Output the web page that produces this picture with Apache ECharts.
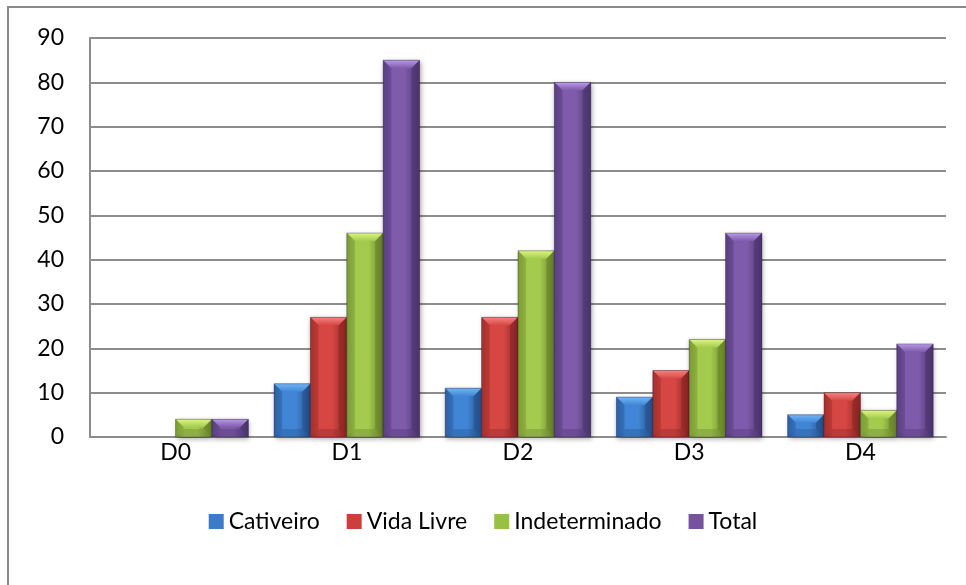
<!DOCTYPE html>
<html>
<head>
<meta charset="utf-8">
<script src="https://cdn.jsdelivr.net/npm/echarts@6/dist/echarts.min.js"></script>
<style>
  html, body { margin: 0; padding: 0; background: #fff; }
  #chart { width: 966px; height: 585px; }
</style>
</head>
<body>
<div id="chart"></div>
<script>
// Categories and series values
const categories = ['D0', 'D1', 'D2', 'D3', 'D4'];
const seriesNames = ['Cativeiro', 'Vida Livre', 'Indeterminado', 'Total'];
const cativeiro = [0, 12, 11, 9, 5];
const vidaLivre = [0, 27, 27, 15, 10];
const indeterminado = [4, 46, 42, 22, 6];
const total = [4, 85, 80, 46, 21];
const yTicks = [0, 10, 20, 30, 40, 50, 60, 70, 80, 90];

// Shades per series: edge (sides), body (centre), top bevel, legend swatch
const palette = [
  { edge: '#2c60a4', body: '#4186d6', top: '#70b4f6', dark: '#244f88', swatch: '#3b7cc8' },
  { edge: '#a52f2c', body: '#d64744', top: '#f38480', dark: '#8a2522', swatch: '#cc3f3c' },
  { edge: '#7c9c34', body: '#a4ca4e', top: '#dcf680', dark: '#66822a', swatch: '#98c046' },
  { edge: '#5a3f82', body: '#7e5bab', top: '#b89ae6', dark: '#4a346c', swatch: '#7553a0' }
];

const values = [cativeiro, vidaLivre, indeterminado, total];
const FONT = 'Lato, "Open Sans", sans-serif';
const GROUP = 0.85; // share of the category band used by the four bars

function bevelBar(sIdx) {
  const c = palette[sIdx];
  return function (params, api) {
    const cat = api.value(0);
    const val = api.value(1);
    if (!(val > 0)) return null;
    const base = api.coord([cat, 0]);
    const topPt = api.coord([cat, val]);
    const band = api.size([1, 0])[0];
    const w = band * GROUP / 4;
    const x = base[0] - band * GROUP / 2 + sIdx * w;
    const y = topPt[1];
    const h = base[1] - y;
    const b = Math.min(8, h / 2, w / 3);
    const bodyFill = new echarts.graphic.LinearGradient(0, 0, 1, 0, [
      { offset: 0, color: c.edge },
      { offset: 0.25, color: c.body },
      { offset: 0.6, color: c.body },
      { offset: 1, color: c.dark }
    ]);
    return {
      type: 'group',
      children: [
        {
          type: 'rect',
          shape: { x: x, y: y, width: w, height: h },
          style: {
            fill: bodyFill,
            shadowBlur: 5, shadowOffsetX: 1, shadowOffsetY: 2,
            shadowColor: 'rgba(0,0,0,0.35)'
          }
        },
        {
          // top bevel
          type: 'polygon',
          shape: { points: [[x, y], [x + w, y], [x + w - b, y + b], [x + b, y + b]] },
          style: {
            fill: new echarts.graphic.LinearGradient(0, 0, 0, 1, [
              { offset: 0, color: c.top },
              { offset: 1, color: c.body }
            ])
          }
        },
        {
          // left bevel
          type: 'polygon',
          shape: { points: [[x, y], [x + b, y + b], [x + b, y + h - b], [x, y + h]] },
          style: { fill: c.edge, opacity: 0.5 }
        },
        {
          // right bevel
          type: 'polygon',
          shape: { points: [[x + w, y], [x + w, y + h], [x + w - b, y + h - b], [x + w - b, y + b]] },
          style: { fill: c.dark, opacity: 0.6 }
        },
        {
          // bottom bevel
          type: 'polygon',
          shape: { points: [[x, y + h], [x + b, y + h - b], [x + w - b, y + h - b], [x + w, y + h]] },
          style: { fill: c.dark, opacity: 0.35 }
        },
        {
          type: 'rect',
          shape: { x: x, y: y, width: w, height: h },
          style: { fill: 'none', stroke: 'rgba(40,30,60,0.35)', lineWidth: 1 }
        }
      ]
    };
  };
}

const chart = echarts.init(document.getElementById('chart'), null, { renderer: 'canvas' });

chart.setOption({
  backgroundColor: '#ffffff',
  animation: false,
  textStyle: { fontFamily: FONT },
  graphic: [{
    type: 'rect',
    z: -1,
    shape: { x: 8, y: 7, width: 1000, height: 700 },
    style: { fill: 'none', stroke: '#8a8a8a', lineWidth: 2 }
  }],
  grid: { left: 90, right: 20, top: 38, bottom: 148, containLabel: false },
  legend: {
    data: seriesNames.map((n, i) => ({ name: n, itemStyle: { color: palette[i].swatch } })),
    left: 'center',
    top: 505,
    icon: 'rect',
    itemWidth: 15,
    itemHeight: 15,
    itemGap: 27,
    textStyle: { fontFamily: FONT, fontSize: 23, color: '#000' }
  },
  xAxis: {
    type: 'category',
    data: categories,
    axisLine: { show: true, lineStyle: { color: '#8c8c8c', width: 2 } },
    axisTick: { show: false },
    axisLabel: { fontFamily: FONT, fontSize: 23, color: '#000', margin: 4 },
    splitLine: { show: false }
  },
  yAxis: {
    type: 'value',
    min: yTicks[0],
    max: yTicks[yTicks.length - 1],
    interval: yTicks[1] - yTicks[0],
    axisLine: { show: true, lineStyle: { color: '#8c8c8c', width: 2 } },
    axisTick: { show: false },
    axisLabel: { fontFamily: FONT, fontSize: 23, color: '#000', margin: 26 },
    splitLine: { show: true, lineStyle: { color: '#8c8c8c', width: 2 } }
  },
  series: seriesNames.map((name, i) => ({
    name: name,
    type: 'custom',
    renderItem: bevelBar(i),
    itemStyle: { color: palette[i].swatch },
    encode: { x: 0, y: 1 },
    data: values[i].map((v, k) => [k, v]),
    z: 3
  }))
});
</script>
</body>
</html>
